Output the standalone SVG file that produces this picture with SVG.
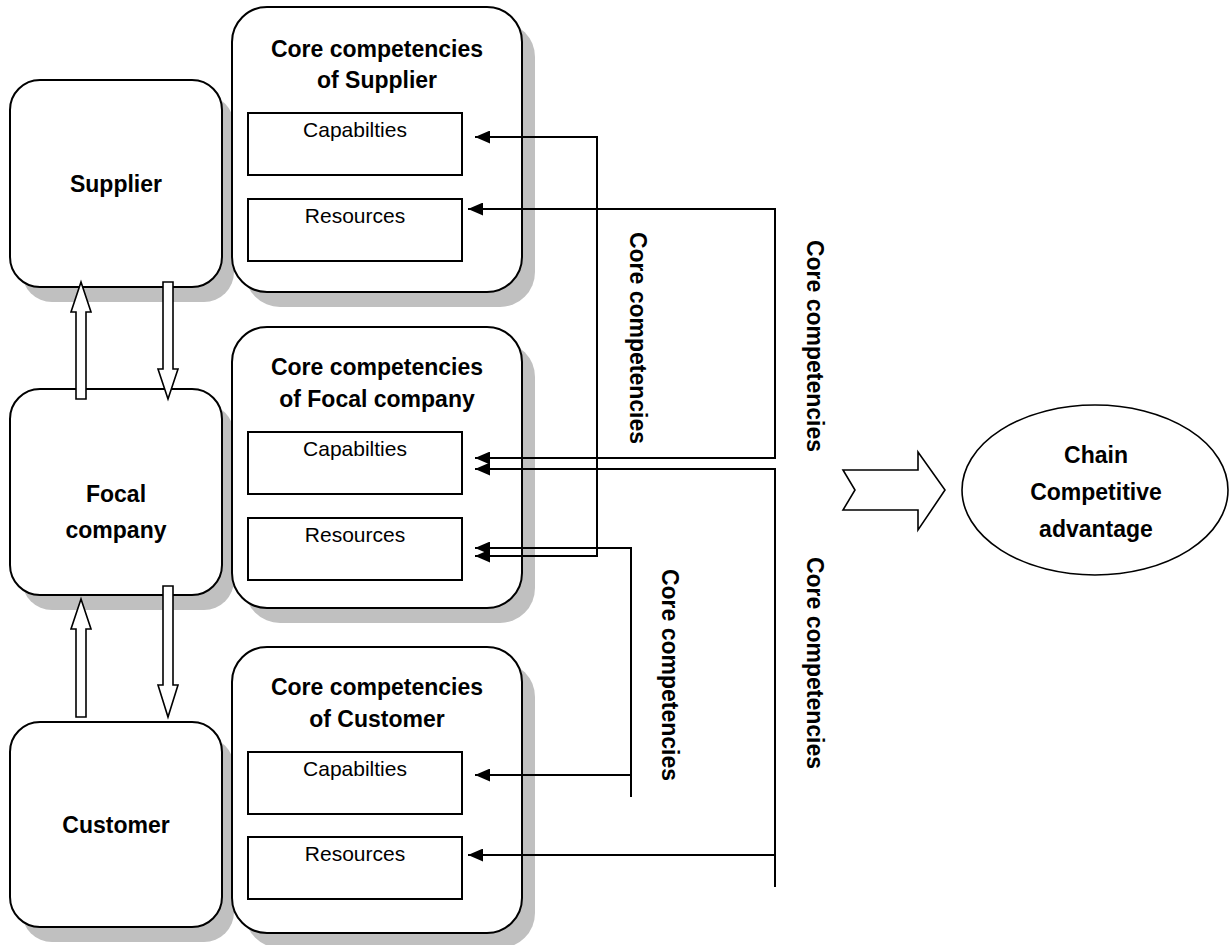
<svg xmlns="http://www.w3.org/2000/svg" width="1231" height="945" viewBox="0 0 1231 945">
<defs>
<marker id="ah" markerUnits="userSpaceOnUse" markerWidth="16" markerHeight="13" refX="15" refY="6.5" orient="auto-start-reverse"><path d="M0,0 L15,6.5 L0,13 z" fill="#000"/></marker>
</defs>
<style>
.box{fill:#fff;stroke:#000;stroke-width:2}
.sh{fill:#c0c0c0}
.in{fill:#fff;stroke:#000;stroke-width:2}
.t{font-family:"Liberation Sans",Arial,sans-serif;font-weight:bold;font-size:23px;text-anchor:middle;fill:#000}
.s{font-family:"Liberation Sans",Arial,sans-serif;font-size:21px;text-anchor:middle;fill:#000}
.c{fill:none;stroke:#000;stroke-width:2}
.ba{fill:#fff;stroke:#000;stroke-width:1.6;stroke-linejoin:miter}
</style>
<rect width="1231" height="945" fill="#fff"/>

<g id="supplier">
<rect class="sh" x="22" y="95" width="212" height="207" rx="30"/>
<rect class="box" x="10" y="80" width="212" height="207" rx="30"/>
<text class="t" x="116" y="192">Supplier</text>
</g>
<g id="focal-company">
<rect class="sh" x="22" y="404" width="212" height="206" rx="30"/>
<rect class="box" x="10" y="389" width="212" height="206" rx="30"/>
<text class="t" x="116" y="502">Focal</text>
<text class="t" x="116" y="538">company</text>
</g>
<g id="customer">
<rect class="sh" x="22" y="737" width="212" height="205" rx="30"/>
<rect class="box" x="10" y="722" width="212" height="205" rx="30"/>
<text class="t" x="116" y="833">Customer</text>
</g>

<g id="core-supplier">
<rect class="sh" x="245" y="22" width="290" height="285" rx="35"/>
<rect class="box" x="232" y="7" width="290" height="285" rx="35"/>
<text class="t" x="377" y="57">Core competencies</text>
<text class="t" x="377" y="88">of Supplier</text>
<g id="supplier-capabilities"><rect class="in" x="248" y="113" width="214" height="62"/><text class="s" x="355" y="137">Capabilties</text></g>
<g id="supplier-resources"><rect class="in" x="248" y="199" width="214" height="62"/><text class="s" x="355" y="223">Resources</text></g>
</g>
<g id="core-focal">
<rect class="sh" x="245" y="342" width="290" height="281" rx="35"/>
<rect class="box" x="232" y="327" width="290" height="281" rx="35"/>
<text class="t" x="377" y="375">Core competencies</text>
<text class="t" x="377" y="407">of Focal company</text>
<g id="focal-capabilities"><rect class="in" x="248" y="432" width="214" height="62"/><text class="s" x="355" y="456">Capabilties</text></g>
<g id="focal-resources"><rect class="in" x="248" y="518" width="214" height="62"/><text class="s" x="355" y="542">Resources</text></g>
</g>
<g id="core-customer">
<rect class="sh" x="245" y="662" width="290" height="286" rx="35"/>
<rect class="box" x="232" y="647" width="290" height="286" rx="35"/>
<text class="t" x="377" y="695">Core competencies</text>
<text class="t" x="377" y="727">of Customer</text>
<g id="customer-capabilities"><rect class="in" x="248" y="752" width="214" height="62"/><text class="s" x="355" y="776">Capabilties</text></g>
<g id="customer-resources"><rect class="in" x="248" y="837" width="214" height="62"/><text class="s" x="355" y="861">Resources</text></g>
</g>

<g id="chain-advantage">
<ellipse cx="1095" cy="490" rx="133" ry="85" fill="#fff" stroke="#000" stroke-width="1.6"/>
<text class="t" x="1096" y="463">Chain</text>
<text class="t" x="1096" y="500">Competitive</text>
<text class="t" x="1096" y="537">advantage</text>
</g>

<g id="connectors">
<polygon class="ba" points="76,399 76,312 71,312 81,282 91,312 86,312 86,399"/>
<polygon class="ba" points="163,282 173,282 173,369 178,369 168,399 158,369 163,369"/>
<polygon class="ba" points="76,717 76,629 71,629 81,599 91,629 86,629 86,717"/>
<polygon class="ba" points="163,586 173,586 173,685 178,685 168,717 158,685 163,685"/>
<path class="c" d="M475,137 H597 V556 H475" marker-start="url(#ah)" marker-end="url(#ah)"/>
<path class="c" d="M468,209 H775 V458 H475" marker-start="url(#ah)" marker-end="url(#ah)"/>
<path class="c" d="M475,469 H775 V887" marker-start="url(#ah)"/>
<path class="c" d="M775,855 H468" marker-end="url(#ah)"/>
<path class="c" d="M475,548 H631 V797" marker-start="url(#ah)"/>
<path class="c" d="M631,775 H475" marker-end="url(#ah)"/>
<polygon class="ba" points="843,470 918,470 918,452 945,490 918,530 918,510 843,510 855,490"/>
<text class="t" dominant-baseline="central" transform="translate(638,338) rotate(90)">Core competencies</text>
<text class="t" dominant-baseline="central" transform="translate(815,346) rotate(90)">Core competencies</text>
<text class="t" dominant-baseline="central" transform="translate(670,675) rotate(90)">Core competencies</text>
<text class="t" dominant-baseline="central" transform="translate(815,663) rotate(90)">Core competencies</text>
</g>
</svg>
